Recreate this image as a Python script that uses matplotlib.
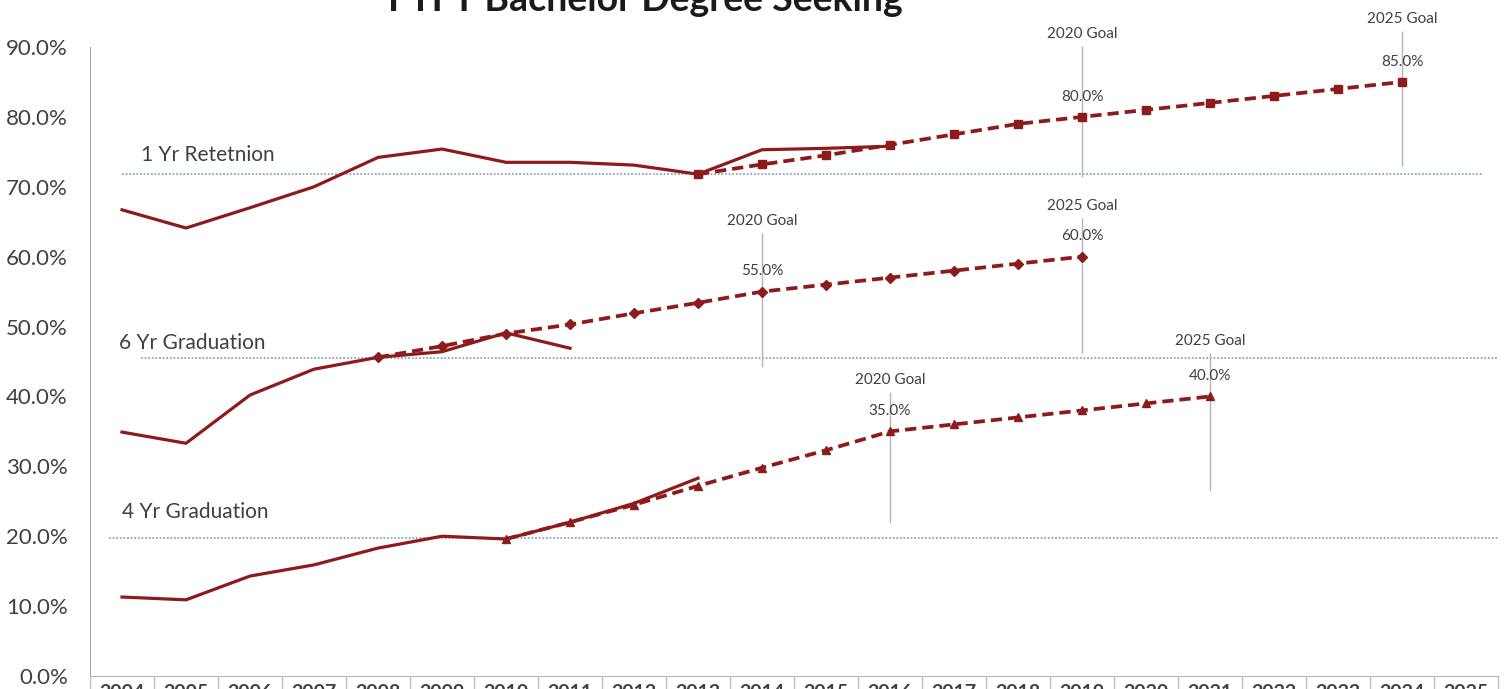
import matplotlib.pyplot as plt

plt.rcParams['font.family'] = ['Lato', 'DejaVu Sans']

years = list(range(2004, 2026))

# 1 year retention: actual and target path
ret_years = list(range(2004, 2017))
ret_actual = [66.7, 64.1, 67.0, 70.0, 74.2, 75.4, 73.5, 73.5, 73.1, 71.8, 75.3, 75.5, 75.8]
ret_target_years = list(range(2013, 2025))
ret_target = [71.8, 73.2, 74.5, 76.0, 77.5, 79.0, 80.0, 81.0, 82.0, 83.0, 84.0, 85.0]

# 6 year graduation
grad6_years = list(range(2004, 2012))
grad6_actual = [34.9, 33.3, 40.2, 43.9, 45.6, 46.4, 49.1, 46.9]
grad6_target_years = list(range(2008, 2020))
grad6_target = [45.6, 47.2, 49.0, 50.3, 51.9, 53.4, 55.0, 56.0, 57.0, 58.0, 59.0, 60.0]

# 4 year graduation
grad4_years = list(range(2004, 2014))
grad4_actual = [11.3, 10.9, 14.3, 15.9, 18.3, 20.0, 19.6, 22.0, 24.7, 28.3]
grad4_target_years = list(range(2010, 2022))
grad4_target = [19.6, 22.0, 24.5, 27.2, 29.8, 32.3, 35.0, 36.0, 37.0, 38.0, 39.0, 40.0]

# baselines and goals
baseline_names = ["1 Yr Retetnion", "6 Yr Graduation", "4 Yr Graduation"]
baseline_vals = [71.8, 45.5, 19.7]
goal_names = ["2020 Goal", "2025 Goal", "2020 Goal", "2025 Goal", "2020 Goal", "2025 Goal"]
goal_years = [2019, 2024, 2014, 2019, 2016, 2021]
goal_vals = [80.0, 85.0, 55.0, 60.0, 35.0, 40.0]

RED = '#8e1b1b'
GREY_TXT = '#404040'

fig = plt.figure(figsize=(15.07, 6.89), dpi=100)
ax = fig.add_axes([90 / 1507, 1 - 676 / 689, 1408 / 1507, 629 / 689])

# reference (baseline) lines
base_spans = [(2004.0, 2025.25), (2004.3, 2025.5), (2003.8, 2025.5)]
label_pos = [(2004.3, 74.6), (2003.95, 47.7), (2004.0, 23.4)]
for name, val, span, pos in zip(baseline_names, baseline_vals, base_spans, label_pos):
    ax.hlines(val, span[0], span[1], color='#8ea7bd', lw=1.3,
              linestyles=(0, (1, 1)), zorder=1, clip_on=False)
    ax.text(pos[0], pos[1], name, fontsize=15, color=GREY_TXT, va='center', ha='left')

# goal drop lines and labels
goal_spans = [(71.4, 90.1), (73.0, 92.3), (44.2, 63.4), (46.2, 65.5), (21.9, 40.6), (26.5, 46.2)]
for name, yr, val, span in zip(goal_names, goal_years, goal_vals, goal_spans):
    ax.vlines(yr, span[0], span[1], color='#b5b5b5', lw=1, zorder=1, clip_on=False)
    ax.text(yr, span[1] + 0.7, name, fontsize=11, color=GREY_TXT,
            ha='center', va='bottom', clip_on=False)
    ax.text(yr, val + 1.9, f"{val:.1f}%", fontsize=11, color=GREY_TXT,
            ha='center', va='bottom')

# actual series
for x, y in [(ret_years, ret_actual), (grad6_years, grad6_actual), (grad4_years, grad4_actual)]:
    ax.plot(x, y, color=RED, lw=2.3, solid_joinstyle='round', zorder=3)

# target series
for x, y, m, ms in [(ret_target_years, ret_target, 's', 6),
                    (grad6_target_years, grad6_target, 'D', 5),
                    (grad4_target_years, grad4_target, '^', 6)]:
    ax.plot(x, y, color=RED, lw=2.7, dashes=(3.0, 1.6), marker=m, markersize=ms,
            zorder=4, clip_on=False)

ax.set_xlim(2003.5, 2025.5)
ax.set_ylim(0, 90)
ax.set_yticks(range(0, 91, 10))
ax.set_yticklabels([f"{v:.1f}%" for v in range(0, 91, 10)])
ax.set_xticks(years)
ax.set_xticklabels([str(y) for y in years], fontweight='bold')
ax.set_xticks([y - 0.5 for y in years] + [2025.5], minor=True)
ax.tick_params(axis='y', length=0, pad=16, labelsize=16, labelcolor=GREY_TXT)
ax.tick_params(axis='x', which='major', length=0, pad=6, labelsize=14, labelcolor=GREY_TXT)
ax.tick_params(axis='x', which='minor', length=30, width=1, color='#c0c0c0', direction='out')

for s in ['top', 'right']:
    ax.spines[s].set_visible(False)
ax.spines['left'].set_color('#a6a6a6')
ax.spines['bottom'].set_color('#b5b5b5')

fig.text(645 / 1507, 1 - 11 / 689, "FTFT Bachelor Degree Seeking", fontsize=27,
         fontweight='bold', ha='center', va='baseline', color='#1a1a1a')

fig.savefig("out.png", dpi=100)
